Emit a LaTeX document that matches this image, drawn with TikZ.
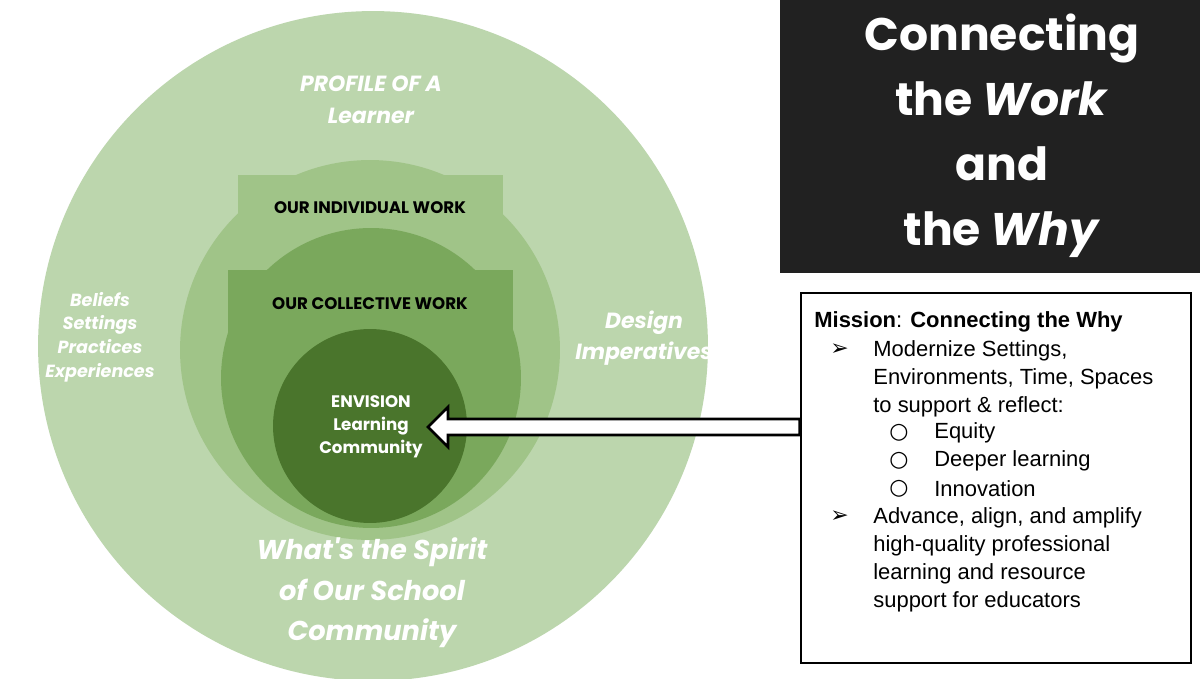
\documentclass[tikz,border=0pt]{standalone}
\usepackage{fontspec}
\setmainfont{Liberation Sans}
\newfontfamily\popfont{Poppins}
\newfontfamily\symfont{DejaVu Sans}
\usetikzlibrary{positioning}
\definecolor{gOut}{HTML}{BCD6AD}
\definecolor{gMid}{HTML}{A0C488}
\definecolor{gIn}{HTML}{7AA85C}
\definecolor{gCore}{HTML}{4A752C}
\tikzset{lbl/.style={font=\popfont\bfseries\fontsize{9.5}{11}\selectfont,align=center},
  wlbl/.style={text=white,font=\popfont\bfseries\itshape,align=center},
  mline/.style={anchor=west,inner sep=0pt,font=\fontsize{12.5}{15}\selectfont}}
\begin{document}
\begin{tikzpicture}[x=0.02cm,y=-0.02cm]
  \useasboundingbox[fill=white] (0,0) rectangle (1200,679);
  % rings
  \fill[gOut] (373,346) circle (6.7cm);
  \fill[gMid] (370,350) circle (3.8cm);
  \fill[gMid] (238,175) rectangle (503,300);
  \fill[gIn] (371,378) circle (3cm);
  \fill[gIn] (228,270) rectangle (513,400);
  \fill[gCore] (370,426) circle (1.94cm);
  \node[lbl] (indiv) at (370,208) {OUR INDIVIDUAL WORK};
  \node[lbl] (coll) at (370,304) {OUR COLLECTIVE WORK};
  \node[lbl,text=white,font=\popfont\bfseries\fontsize{9.5}{13}\selectfont] (core) at (371,427) {ENVISION\\Learning\\Community};
  \node[wlbl,font=\popfont\bfseries\itshape\fontsize{12.5}{18}\selectfont] (profile) at (371,100) {PROFILE OF A\\Learner};
  \node[wlbl,font=\popfont\bfseries\itshape\fontsize{10}{13.5}\selectfont] (beliefs) at (100,337) {Beliefs\\Settings\\Practices\\Experiences};
  \node[wlbl,font=\popfont\bfseries\itshape\fontsize{12.5}{18}\selectfont] (design) at (644,338) {Design\\Imperatives};
  \node[wlbl,font=\popfont\bfseries\itshape\fontsize{15.5}{23}\selectfont] (spirit) at (372,593) {What's the Spirit\\of Our School\\Community};
  % title box
  \fill[black!87] (780,0) rectangle (1200,273);
  \node[text=white,align=center,font=\popfont\bfseries\fontsize{26}{37}\selectfont] (title) at (1002,136)
    {Connecting\\the \textit{Work}\\and\\the \textit{Why}};
  % mission box
  \node[draw,line width=1.6pt,minimum width=7.8cm,minimum height=7.4cm] (mission) at (996,478) {};
  \node[mline] (m0) at (814,322) {\textbf{Mission}: \textbf{Connecting the Why}};
  \node[mline] (b1) at (830,350) {\symfont ➢};
  \node[mline,align=left,font=\fontsize{12.5}{16}\selectfont,anchor=north west] (t1) at (873,340) {Modernize Settings,\\Environments, Time, Spaces\\to support \& reflect:};
  \node[mline] (c1) at (889,433) {\symfont ○};
  \node[mline] (s1) at (934,433) {Equity};
  \node[mline] (c2) at (889,461) {\symfont ○};
  \node[mline] (s2) at (934,461) {Deeper learning};
  \node[mline] (c3) at (889,489) {\symfont ○};
  \node[mline] (s3) at (934,489) {Innovation};
  \node[mline] (b2) at (830,517) {\symfont ➢};
  \node[mline,align=left,font=\fontsize{12.5}{16}\selectfont,anchor=north west] (t2) at (873,507) {Advance, align, and amplify\\high-quality professional\\learning and resource\\support for educators};
  % arrow
  \coordinate (tip) at (428,427);
  \coordinate (tail) at (mission.west |- tip);
  \draw[fill=white,line width=1.5pt,line join=miter]
    (tail) ++(0,-8) -- (448,419) -- (448,407) -- (tip) -- (448,447) -- (448,435) -- ([yshift=-0.16cm]tail) -- cycle;
\end{tikzpicture}
\end{document}
